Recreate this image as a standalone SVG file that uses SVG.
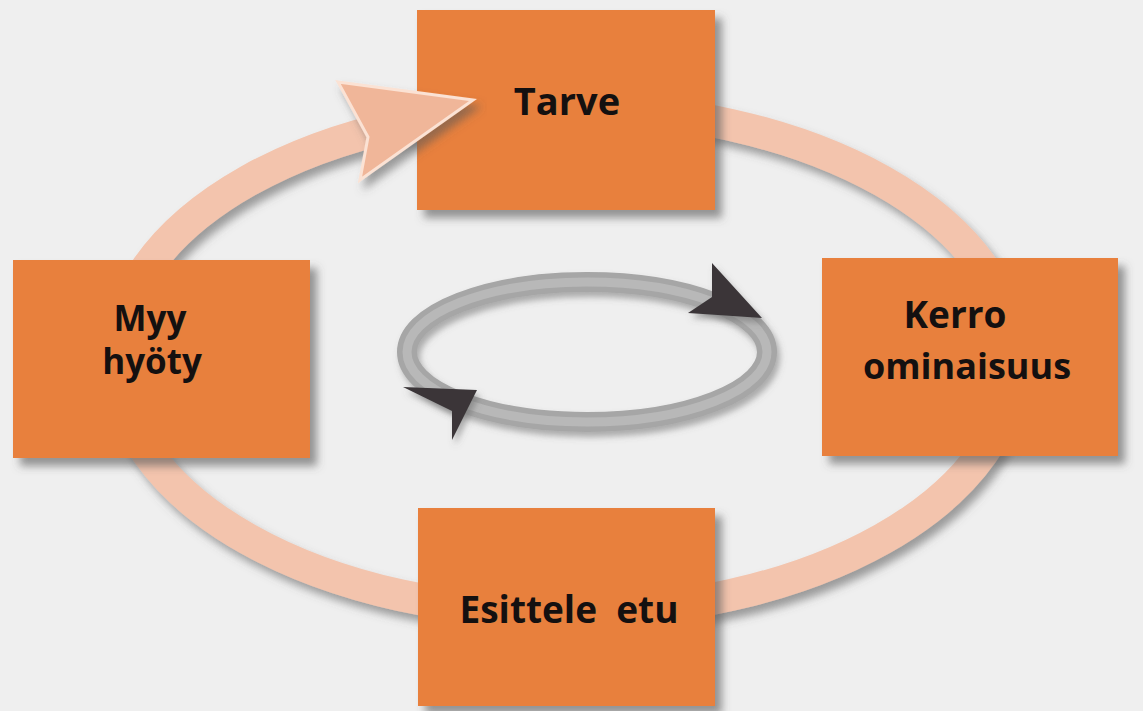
<svg xmlns="http://www.w3.org/2000/svg" width="1143" height="711" viewBox="0 0 1143 711">
  <style>
    .box { fill: #e8803e; }
    .lbl { font-family: "Open Sans", "Liberation Sans", sans-serif; font-weight: 700; fill: #141010; }
  </style>
  <defs>
    <filter id="sh" x="-20%" y="-20%" width="150%" height="150%">
      <feDropShadow dx="7" dy="8" stdDeviation="4" flood-color="#555" flood-opacity="0.6"/>
    </filter>
    <filter id="shRing" x="-10%" y="-10%" width="120%" height="130%">
      <feDropShadow dx="5" dy="7" stdDeviation="4" flood-color="#555" flood-opacity="0.55"/>
    </filter>
    <filter id="shSmall" x="-10%" y="-10%" width="130%" height="140%">
      <feDropShadow dx="3" dy="5" stdDeviation="3" flood-color="#666" flood-opacity="0.5"/>
    </filter>
  </defs>
  <rect x="0" y="0" width="1143" height="711" fill="#efefef"/>

  <g id="connectors">
    <!-- outer cycle -->
    <ellipse cx="565" cy="360" rx="449" ry="253" fill="none" stroke="#f3c4ad" stroke-width="32" filter="url(#shRing)"/>
    <!-- inner loop -->
    <ellipse cx="587" cy="352" rx="180" ry="70" fill="none" stroke="#a6a6a6" stroke-width="20" filter="url(#shSmall)"/>
    <ellipse cx="587" cy="352" rx="180" ry="70" fill="none" stroke="#b8b8b8" stroke-width="9"/>
    <polygon points="712,263 762,318 688,313 712,297" fill="#3b3639" filter="url(#shSmall)"/>
    <polygon points="403,387 477,390 452,440 452,411" fill="#3b3639" filter="url(#shSmall)"/>
  </g>

  <g id="node-tarve">
    <rect class="box" x="417" y="10" width="298" height="200" filter="url(#sh)"/>
    <text class="lbl" x="567" y="115" font-size="38" text-anchor="middle">Tarve</text>
  </g>
  <g id="node-myy">
    <rect class="box" x="13" y="260" width="297" height="198" filter="url(#sh)"/>
    <text class="lbl" x="150" y="331" font-size="35" text-anchor="middle">Myy</text>
    <text class="lbl" x="152" y="374" font-size="35" text-anchor="middle">hyöty</text>
  </g>
  <g id="node-kerro">
    <rect class="box" x="822" y="258" width="296" height="198" filter="url(#sh)"/>
    <text class="lbl" x="955" y="328" font-size="37" text-anchor="middle">Kerro</text>
    <text class="lbl" x="967" y="379" font-size="36" text-anchor="middle">ominaisuus</text>
  </g>
  <g id="node-esittele">
    <rect class="box" x="418" y="508" width="297" height="198" filter="url(#sh)"/>
    <text class="lbl" x="569" y="623" font-size="37" text-anchor="middle" xml:space="preserve">Esittele  etu</text>
  </g>

  <g id="arrowhead">
    <polygon points="338,82 473,100 360,180 368,137" fill="#f0b699" stroke="#fbe2d4" stroke-width="3" stroke-linejoin="miter" filter="url(#shRing)"/>
  </g>
</svg>
